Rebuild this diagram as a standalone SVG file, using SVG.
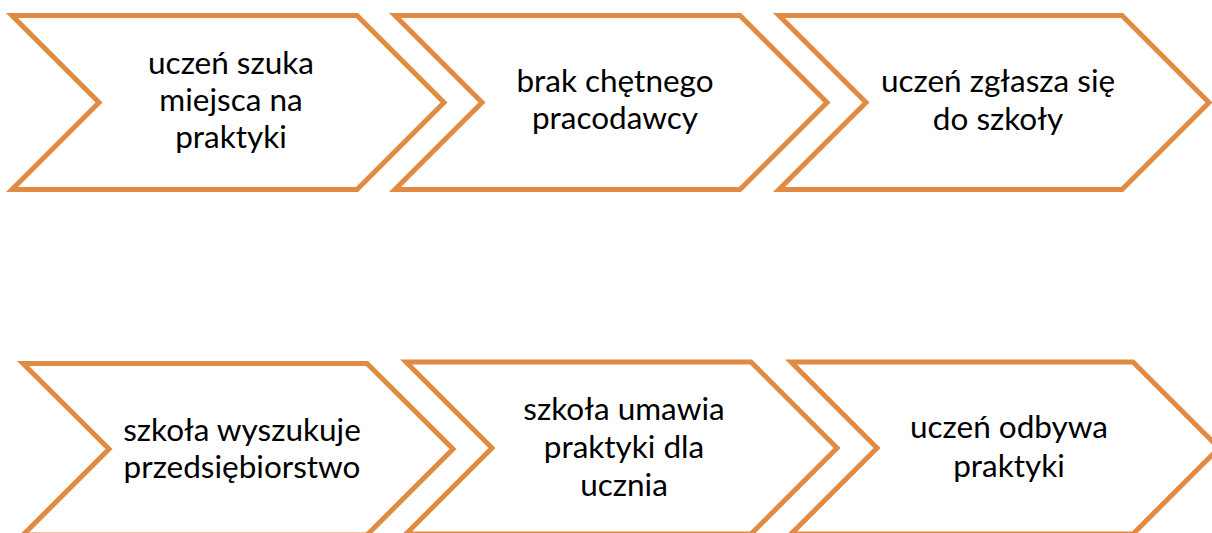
<svg xmlns="http://www.w3.org/2000/svg" width="1212" height="533" viewBox="0 0 1212 533">
<style>
.chev{fill:#FFFFFF;stroke:#E08A42;stroke-width:5;stroke-linejoin:miter}
.lbl{font-family:Lato,"Liberation Sans",sans-serif;font-size:31.5px;fill:#000000;text-anchor:middle}
</style>
<rect width="1212" height="533" fill="#FFFFFF"/>
<g id="connectors"></g>
<g id="n1"><path class="chev" d="M12,15.5 L357,15.5 L444,102.5 L357,189.5 L12,189.5 L99,102.5 Z"/>
<text class="lbl" x="231" y="74">uczeń szuka</text><text class="lbl" x="231" y="111">miejsca na</text><text class="lbl" x="231" y="148">praktyki</text></g>
<g id="n2"><path class="chev" d="M395,15.5 L740,15.5 L827,102.5 L740,189.5 L395,189.5 L482,102.5 Z"/>
<text class="lbl" x="615" y="92">brak chętnego</text><text class="lbl" x="615" y="129">pracodawcy</text></g>
<g id="n3"><path class="chev" d="M779,15.5 L1122,15.5 L1209,102.5 L1122,189.5 L779,189.5 L866,102.5 Z"/>
<text class="lbl" x="998" y="92">uczeń zgłasza się</text><text class="lbl" x="998" y="130">do szkoły</text></g>
<g id="n4"><path class="chev" d="M23,363.5 L367,363.5 L453,449 L367,535 L23,535 L109,449 Z"/>
<text class="lbl" x="242" y="441">szkoła wyszukuje</text><text class="lbl" x="242" y="478">przedsiębiorstwo</text></g>
<g id="n5"><path class="chev" d="M406,362 L751,362 L837,448 L751,534 L406,534 L492,448 Z"/>
<text class="lbl" x="624" y="420">szkoła umawia</text><text class="lbl" x="624" y="458">praktyki dla</text><text class="lbl" x="624" y="496">ucznia</text></g>
<g id="n6"><path class="chev" d="M791,362 L1133,362 L1219,448 L1133,534 L791,534 L877,448 Z"/>
<text class="lbl" x="1009" y="438">uczeń odbywa</text><text class="lbl" x="1009" y="477">praktyki</text></g>
</svg>
